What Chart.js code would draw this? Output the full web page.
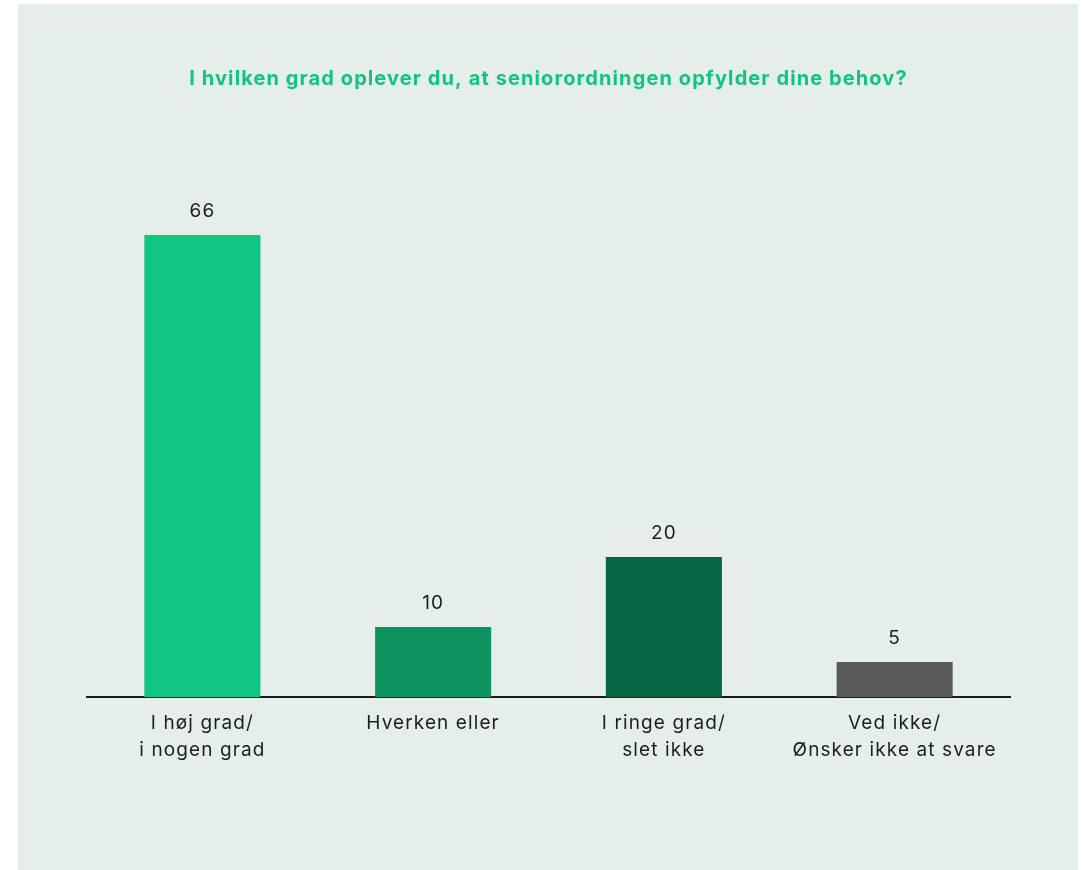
<!DOCTYPE html>
<html>
<head>
<meta charset="utf-8">
<script src="https://cdn.jsdelivr.net/npm/chart.js@4"></script>
<style>
  html, body { margin: 0; padding: 0; background: #ffffff; }
  #panel {
    position: absolute; left: 18px; top: 4px; width: 1058px; height: 866px;
    background: #e6eeeb; border-left: 1px solid #e9ebea; border-right: 1px solid #ebedec;
  }
  #wrap { position: absolute; left: 0; top: 0; width: 1084px; height: 870px; }
</style>
</head>
<body>
<div id="panel"></div>
<div id="wrap"><canvas id="myChart" width="1084" height="870"></canvas></div>
<script>
// Data
let kategorier = [
  ["I høj grad/", "i nogen grad"],
  "Hverken eller",
  ["I ringe grad/", "slet ikke"],
  ["Ved ikke/", "Ønsker ikke at svare"],
];
let andele = [66, 10, 20, 5];
let farver = ["#10c683", "#0d9462", "#066644", "#5a5a5a"];
let titel = "I hvilken grad oplever du, at seniorordningen opfylder dine behov?";

// Lidt bredere skrift, som i originalen
const spacing = {
  id: 'spacing',
  beforeDraw(chart) {
    chart.ctx.letterSpacing = '1.1px';
  }
};

// Tal over søjlerne
const vaerdiLabels = {
  id: 'vaerdiLabels',
  afterDatasetsDraw(chart) {
    const ctx = chart.ctx;
    const meta = chart.getDatasetMeta(0);
    ctx.save();
    ctx.font = '19px Inter';
    ctx.fillStyle = '#1e1e1e';
    ctx.textAlign = 'center';
    ctx.textBaseline = 'middle';
    meta.data.forEach((bar, i) => {
      ctx.fillText(andele[i], bar.x, bar.y - 24);
    });
    ctx.restore();
  }
};

const ctx = document.getElementById('myChart').getContext('2d');
const myChart = new Chart(ctx, {
  type: 'bar',
  data: {
    labels: kategorier,
    datasets: [{
      data: andele,
      backgroundColor: farver,
      borderWidth: 0,
      categoryPercentage: 1,
      barPercentage: 0.503,
    }]
  },
  options: {
    responsive: false,
    animation: false,
    layout: { padding: { left: 87, right: 74, top: 67, bottom: 0 } },
    plugins: {
      legend: { display: false },
      tooltip: { enabled: false },
      title: {
        display: true,
        text: titel,
        color: '#12c47f',
        font: { family: 'Inter', size: 20, weight: 'bold' },
        padding: { top: 0, bottom: 46 }
      }
    },
    scales: {
      x: {
        grid: { display: false },
        border: { display: true, color: '#1a1a1a', width: 2 },
        ticks: {
          color: '#1e1e1e',
          font: { family: 'Inter', size: 19, lineHeight: 1.4 },
          padding: 5,
          maxRotation: 0,
          autoSkip: false
        },
        afterFit(scale) { scale.height = 173; }
      },
      y: {
        display: false,
        min: 0,
        max: 80
      }
    }
  },
  plugins: [spacing, vaerdiLabels]
});
</script>
</body>
</html>
